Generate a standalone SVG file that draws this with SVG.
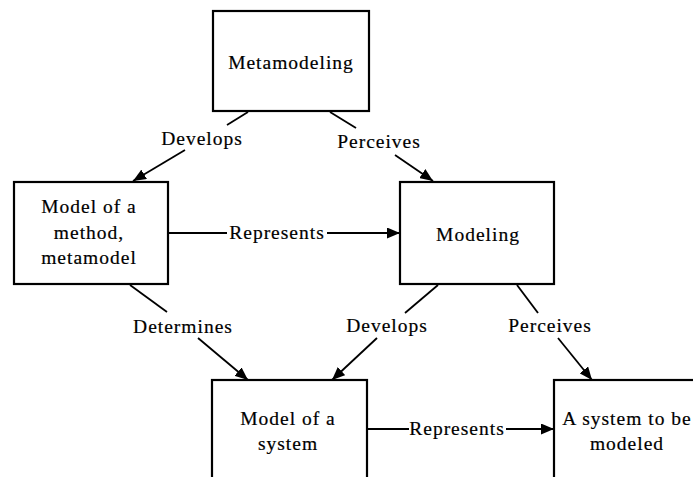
<svg xmlns="http://www.w3.org/2000/svg" width="693" height="477" viewBox="0 0 693 477">
  <defs>
    <marker id="arrow" viewBox="0 0 13 11" refX="13" refY="5.5" markerWidth="13" markerHeight="11" markerUnits="userSpaceOnUse" orient="auto">
      <path d="M0,0 L13,5.5 L0,11 Z" fill="#000"/>
    </marker>
    <style>
      .box { fill: #fff; stroke: #000; stroke-width: 2.2; }
      .lbl { font-family: "Liberation Serif", "Times New Roman", serif; font-size: 19.5px; letter-spacing: 1px; fill: #000; stroke: #000; stroke-width: 0.2; text-anchor: middle; }
      .edge { stroke: #000; stroke-width: 1.8; fill: none; }
    </style>
  </defs>
  <rect width="693" height="477" fill="#fff"/>

  <!-- connectors: each one is two segments around its label -->
  <g id="connectors">
    <!-- Metamodeling -> Model of a method -->
    <line class="edge" x1="248" y1="112" x2="227" y2="125"/>
    <line class="edge" x1="185" y1="150" x2="133" y2="181" marker-end="url(#arrow)"/>
    <text class="lbl" x="202" y="145">Develops</text>

    <!-- Metamodeling -> Modeling -->
    <line class="edge" x1="330" y1="112" x2="356" y2="128"/>
    <line class="edge" x1="395" y1="155" x2="433" y2="181" marker-end="url(#arrow)"/>
    <text class="lbl" x="379" y="148">Perceives</text>

    <!-- Model of a method -> Modeling -->
    <line class="edge" x1="169" y1="233" x2="227" y2="233"/>
    <line class="edge" x1="327" y1="233" x2="400" y2="233" marker-end="url(#arrow)"/>
    <text class="lbl" x="277" y="239">Represents</text>

    <!-- Model of a method -> Model of a system -->
    <line class="edge" x1="130" y1="285" x2="167" y2="312"/>
    <line class="edge" x1="198" y1="338" x2="248" y2="380" marker-end="url(#arrow)"/>
    <text class="lbl" x="183" y="333">Determines</text>

    <!-- Modeling -> Model of a system -->
    <line class="edge" x1="438" y1="285" x2="405" y2="313"/>
    <line class="edge" x1="377" y1="338" x2="332" y2="380" marker-end="url(#arrow)"/>
    <text class="lbl" x="387" y="332">Develops</text>

    <!-- Modeling -> A system to be modeled -->
    <line class="edge" x1="517" y1="285" x2="538" y2="313"/>
    <line class="edge" x1="558" y1="338" x2="592" y2="380" marker-end="url(#arrow)"/>
    <text class="lbl" x="550" y="332">Perceives</text>

    <!-- Model of a system -> A system to be modeled -->
    <line class="edge" x1="368" y1="429" x2="409" y2="429"/>
    <line class="edge" x1="506" y1="429" x2="554" y2="429" marker-end="url(#arrow)"/>
    <text class="lbl" x="457" y="435">Represents</text>
  </g>

  <g id="metamodeling">
    <rect class="box" x="213" y="11" width="156" height="100"/>
    <text class="lbl" x="291" y="69">Metamodeling</text>
  </g>

  <g id="method-model">
    <rect class="box" x="14" y="182" width="154" height="102"/>
    <text class="lbl" x="89" y="213">Model of a</text>
    <text class="lbl" x="89" y="239">method,</text>
    <text class="lbl" x="89" y="264">metamodel</text>
  </g>

  <g id="modeling">
    <rect class="box" x="400" y="182" width="154" height="102"/>
    <text class="lbl" x="478" y="241">Modeling</text>
  </g>

  <g id="system-model">
    <rect class="box" x="212" y="380" width="155" height="110"/>
    <text class="lbl" x="288" y="425">Model of a</text>
    <text class="lbl" x="288" y="450">system</text>
  </g>

  <g id="modeled-system">
    <rect class="box" x="554" y="380" width="160" height="110"/>
    <text class="lbl" x="627" y="425">A system to be</text>
    <text class="lbl" x="627" y="450">modeled</text>
  </g>
</svg>
